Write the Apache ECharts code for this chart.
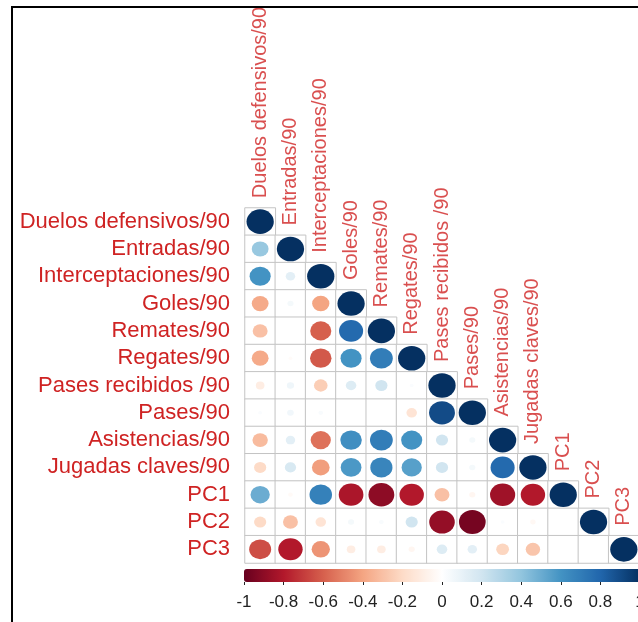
<!DOCTYPE html>
<html>
<head>
<meta charset="utf-8">
<script src="https://cdn.jsdelivr.net/npm/echarts@6/dist/echarts.min.js"></script>
<style>
html,body{margin:0;padding:0;background:#fff;}
#chart{width:638px;height:622px;}
</style>
</head>
<body>
<div id="chart"></div>
<script>
// variable names (rows / columns)
var varNames = ['Duelos defensivos/90','Entradas/90','Interceptaciones/90','Goles/90','Remates/90','Regates/90',
	'Pases recibidos /90','Pases/90','Asistencias/90','Jugadas claves/90','PC1','PC2','PC3'];

// lower triangle of the correlation matrix, row by row (diagonal included)
var corrLower = [
	[1],
	[0.38, 1],
	[0.6, 0.12, 1],
	[-0.38, 0.05, -0.4, 1],
	[-0.3, 0, -0.6, 0.78, 1],
	[-0.38, -0.02, -0.62, 0.6, 0.7, 1],
	[-0.1, 0.07, -0.25, 0.15, 0.2, 0.02, 1],
	[0.02, 0.06, 0.03, 0, 0, -0.15, 0.9, 1],
	[-0.32, 0.12, -0.55, 0.62, 0.7, 0.6, 0.2, 0.05, 1],
	[-0.2, 0.17, -0.42, 0.58, 0.66, 0.55, 0.2, 0.05, 0.78, 1],
	[0.5, -0.03, 0.68, -0.82, -0.9, -0.8, -0.3, -0.05, -0.85, -0.8, 1],
	[-0.2, -0.3, -0.15, 0.05, 0.03, 0.2, -0.88, -0.96, 0.02, -0.04, 0, 1],
	[-0.65, -0.8, -0.45, -0.1, -0.1, -0.05, 0.15, 0.12, -0.22, -0.28, 0, 0, 1]
];

// colour legend ticks
var legendTicks = [-1, -0.8, -0.6, -0.4, -0.2, 0, 0.2, 0.4, 0.6, 0.8, 1];

// RdBu palette as corrplot uses it
var rdbu = ['#67001F','#B2182B','#D6604D','#F4A582','#FDDBC7','#FFFFFF','#D1E5F0','#92C5DE','#4393C3','#2166AC','#053061'];

var cellData = [];
var dotData = [];
var diagData = [];
for(var i=0;i<corrLower.length;i++){
	for(var j=0;j<corrLower[i].length;j++){
		cellData.push([j, i, 0]);
		dotData.push([j, i, corrLower[i][j]]);
	}
	diagData.push([i, i, varNames[i]]);
}

var red = '#cf2323';
var cellW = 394/13, cellH = 355/13;

var myChart = echarts.init(document.getElementById('chart'));
var option = {
	animation: false,
	backgroundColor: '#fff',
	grid: [
		{ left: 245, top: 208, width: 394, height: 355, outerBoundsMode: 'none' },
		{ left: 244, top: 581, width: 396, height: 1, outerBoundsMode: 'none' }
	],
	xAxis: [
		{
			type: 'category', gridIndex: 0, data: varNames,
			axisLine: {show: false}, axisTick: {show: false}, axisLabel: {show: false}, splitLine: {show: false}
		},
		{
			type: 'value', gridIndex: 1, min: -1, max: 1, position: 'bottom',
			axisLine: {show: false},
			splitLine: {show: false},
			axisTick: {show: true, length: 3, customValues: legendTicks, lineStyle: {color: '#222', width: 1}},
			axisLabel: {
				customValues: legendTicks, fontSize: 17, margin: 12, color: '#222',
				fontFamily: 'Liberation Sans, Arial, sans-serif',
				formatter: function(v){ return String(Math.round(v*10)/10); }
			}
		}
	],
	yAxis: [
		{
			type: 'category', gridIndex: 0, data: varNames, inverse: true,
			axisLine: {show: false}, axisTick: {show: false}, splitLine: {show: false},
			axisLabel: {interval: 0, fontSize: 22, color: red, margin: 15, fontFamily: 'Liberation Sans, Arial, sans-serif'}
		},
		{ type: 'value', gridIndex: 1, show: false }
	],
	visualMap: {
		type: 'continuous', min: -1, max: 1, orient: 'horizontal',
		left: 244, top: 569, itemWidth: 13, itemHeight: 396, padding: 0,
		calculable: false, hoverLink: false, seriesIndex: 1, dimension: 2,
		inRange: {color: rdbu}
	},
	series: [
		{
			type: 'heatmap', xAxisIndex: 0, yAxisIndex: 0, data: cellData,
			itemStyle: {color: '#fff', borderColor: '#c4c4c4', borderWidth: 1},
			emphasis: {disabled: true}, silent: true
		},
		{
			type: 'scatter', xAxisIndex: 0, yAxisIndex: 0, data: dotData, symbol: 'circle',
			symbolSize: function(v){
				var s = Math.sqrt(Math.abs(v[2]));
				return [0.9*cellW*s, 0.9*cellH*s];
			},
			itemStyle: {opacity: 1},
			silent: true, z: 3
		},
		{
			type: 'scatter', xAxisIndex: 0, yAxisIndex: 0, data: diagData,
			symbolSize: 1, itemStyle: {color: 'transparent'}, silent: true, z: 4,
			label: {
				show: true, position: 'top', distance: 23, rotate: 90, align: 'left', verticalAlign: 'middle',
				fontSize: 20, color: red, fontFamily: 'Liberation Sans, Arial, sans-serif',
				formatter: function(p){ return p.value[2]; }
			}
		}
	],
	graphic: [
		{ type: 'line', shape: {x1: 12, y1: 7, x2: 12, y2: 622}, style: {stroke: '#000', lineWidth: 2}, z: 10 },
		{ type: 'line', shape: {x1: 11, y1: 7, x2: 638, y2: 7}, style: {stroke: '#000', lineWidth: 2}, z: 10 }
	]
};
myChart.setOption(option);
</script>
</body>
</html>
